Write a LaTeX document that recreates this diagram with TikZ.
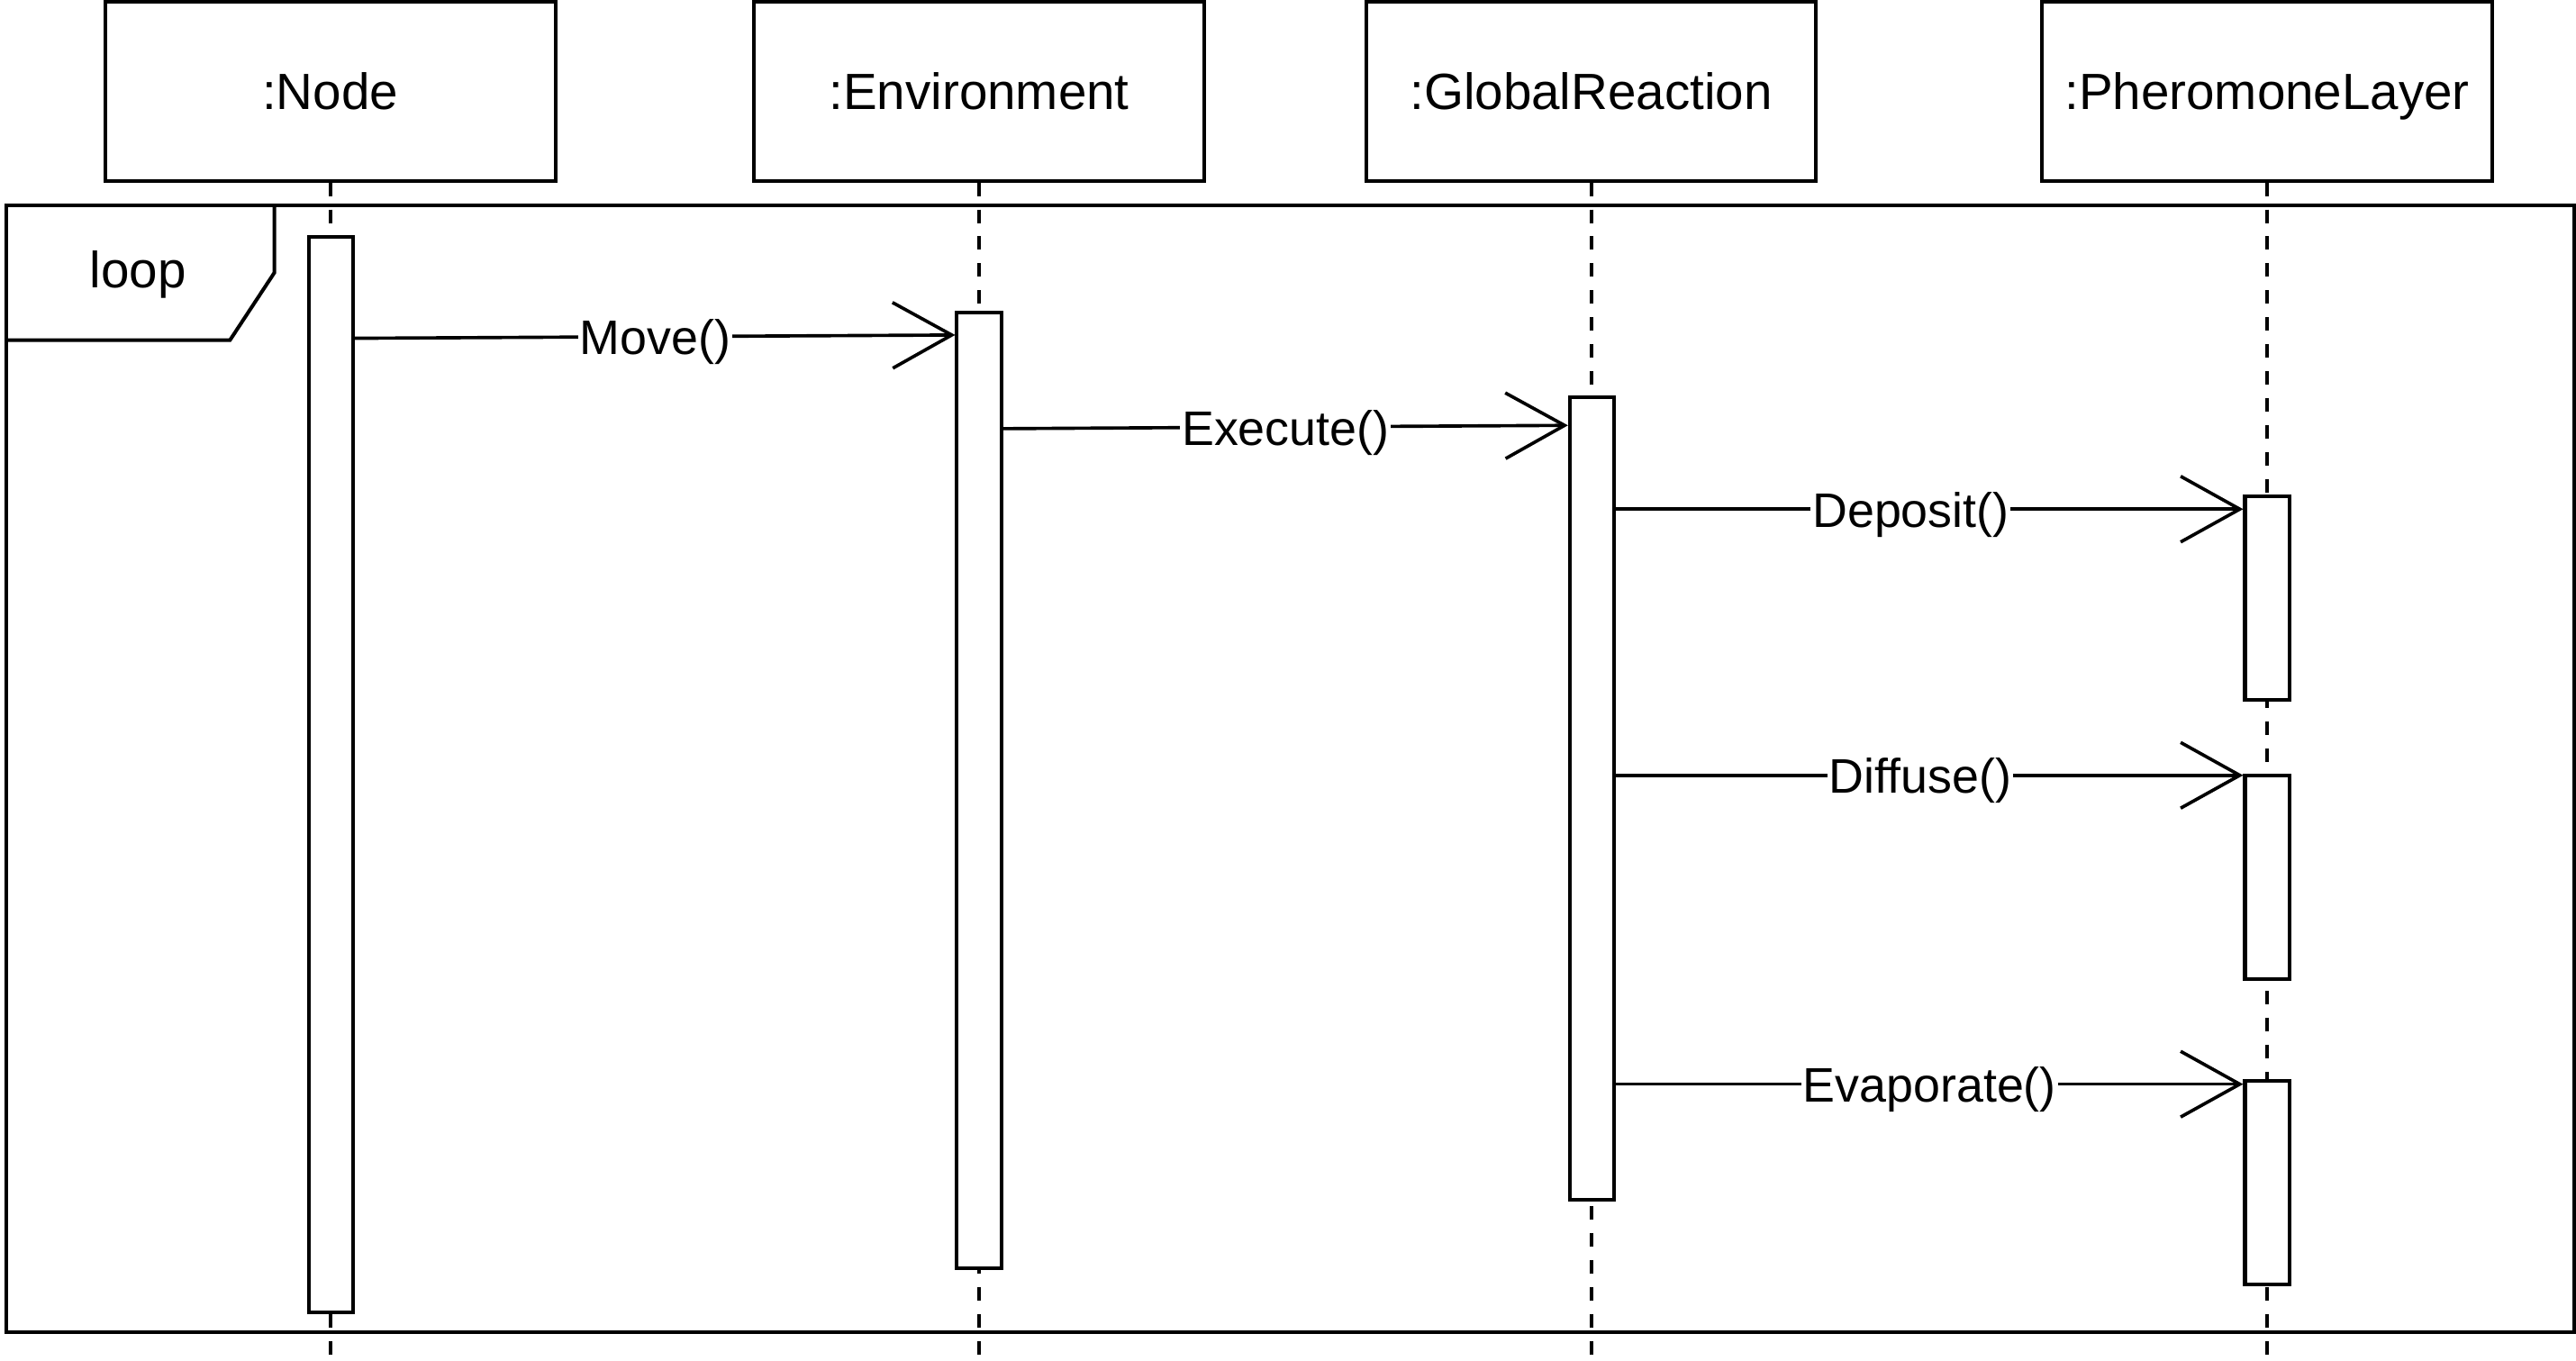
\documentclass[tikz,border=0pt]{standalone}
\usepackage{fontspec}
\setmainfont{Liberation Sans}
\usepackage{tikz}
\usetikzlibrary{arrows.meta}
\tikzset{
  % 对象头
  head/.style={draw, line width=2.2pt, minimum width=274pt, minimum height=109pt,
    inner sep=0pt, text height=22pt, text depth=0pt, font=\fontsize{31}{37}\selectfont},
  % 激活条
  act/.style={draw, fill=white, line width=2.2pt, minimum width=27pt, inner sep=0pt},
  % 生命线
  life/.style={line width=2.2pt, dash pattern=on 8.2pt off 8.2pt},
  % 消息箭头
  msg/.style={line width=2pt, -{Straight Barb[length=36pt, width=40pt, line width=2pt]}},
  msglab/.style={fill=white, inner sep=1pt, text height=24pt, text depth=2pt,
    font=\fontsize{29.5}{35}\selectfont},
}
\begin{document}
\begin{tikzpicture}[x=1pt, y=-1pt]
    \useasboundingbox (0,0) rectangle (1568,828);

    % 对象
    \node[head] (node) at (201, 55.5) {:Node};
    \node[head] (env) at (596, 55.5) {:Environment};
    \node[head] (gr) at (968.5, 55.5) {:GlobalReaction};
    \node[head] (pher) at (1380, 55.5) {:PheromoneLayer};

    % 生命线
    \coordinate (nodeend) at (201, 828);
    \coordinate (envend) at (596, 828);
    \coordinate (grend) at (968.5, 828);
    \coordinate (pherend) at (1380, 828);
    \draw[life] (node.south) -- (nodeend);
    \draw[life] (env.south) -- (envend);
    \draw[life] (gr.south) -- (grend);
    \draw[life] (pher.south) -- (pherend);

    % loop 框
    \node[draw, line width=2.2pt, minimum width=1563pt, minimum height=686pt,
      anchor=north west, inner sep=0pt] (frame) at (3, 124) {};
    \draw[line width=2.2pt] ([xshift=164pt]frame.north west) -- ++(0, 42) -- ++(-27, 41)
      -- ([yshift=-83pt]frame.north west);
    \node[font=\fontsize{31}{37}\selectfont] (looplab) at (84, 167) {loop};

    % 激活条
    \node[act, minimum height=655pt] (nodeact) at (201.5, 471.5) {};
    \node[act, minimum height=582pt] (envact) at (596, 481) {};
    \node[act, minimum height=488pt] (gract) at (969, 486) {};
    \node[act, minimum height=124pt] (pherA) at (1380, 364) {};
    \node[act, minimum height=124pt] (pherB) at (1380, 534) {};
    \node[act, minimum height=124pt] (pherC) at (1380, 720) {};

    % 消息
    \draw[msg] ([yshift=-63pt]nodeact.north east) -- node[msglab] {Move()} ([yshift=-15pt]envact.north west);
    \draw[msg] ([yshift=-72pt]envact.north east) -- node[msglab] {Execute()} ([yshift=-18pt]gract.north west);
    \draw[msg] ([yshift=-69pt]gract.north east) -- node[msglab, pos=0.47] {Deposit()} ([yshift=-9pt]pherA.north west);
    \draw[msg] ([yshift=-231pt]gract.north east) -- node[msglab, pos=0.485] {Diffuse()} ([yshift=-1pt]pherB.north west);
    \draw[msg] ([yshift=-419pt]gract.north east) -- node[msglab] {Evaporate()} ([yshift=-3pt]pherC.north west);
\end{tikzpicture}
\end{document}
